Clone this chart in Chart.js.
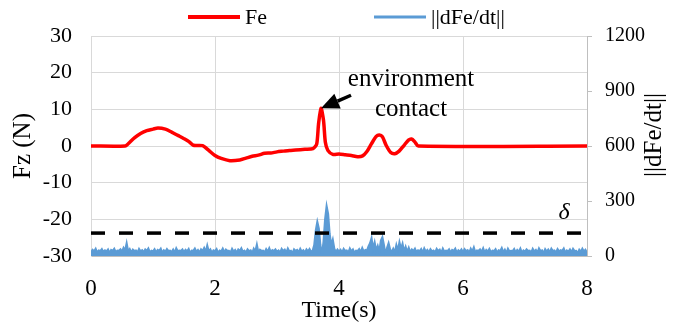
<!DOCTYPE html>
<html>
<head>
<meta charset="utf-8">
<script src="https://cdn.jsdelivr.net/npm/chart.js@4.4.1/dist/chart.umd.min.js"></script>
<style>
  html, body { margin: 0; padding: 0; background: #fff; }
  #wrap { width: 679px; height: 327px; }
</style>
</head>
<body>
<div id="wrap"><canvas id="forceChart" width="679" height="327"></canvas></div>
<script>
// Fe (N) against time (s)
const feTime = [
  0, 0.55, 0.6, 0.7, 0.8, 0.9, 1.0, 1.08, 1.2, 1.3, 1.4, 1.5, 1.58, 1.65, 1.8,
  1.9, 2.0, 2.1, 2.24, 2.4, 2.5, 2.6, 2.7, 2.8, 2.9, 3.0, 3.1, 3.2, 3.3, 3.45,
  3.58, 3.64, 3.67, 3.71, 3.75, 3.78, 3.82, 3.9, 4.0, 4.1, 4.2, 4.3, 4.38, 4.45,
  4.52, 4.6, 4.65, 4.7, 4.76, 4.83, 4.9, 4.97, 5.05, 5.12, 5.17, 5.22, 5.28, 8.0
];
const feValues = [
  0, 0, 0.6, 2.2, 3.4, 4.2, 4.6, 4.9, 4.6, 3.8, 2.9, 2.0, 1.2, 0.2, 0.1,
  -1.2, -2.6, -3.4, -4.0, -3.8, -3.3, -2.8, -2.5, -2.0, -1.9, -1.6, -1.4, -1.2, -1.1, -0.9,
  -0.7, 0.5, 6.0, 10.3, 7.0, 1.0, -1.2, -2.3, -2.2, -2.4, -2.6, -2.9, -2.7, -1.5,
  0.5, 2.6, 3.0, 2.5, 0.2, -1.7, -2.1, -1.4, 0.2, 1.6, 1.9, 1.2, 0, 0
];

// ||dFe/dt||, sampled every 25 ms from t = 0
const dfSamplePeriod = 0.025;
const dfValues = [
  20, 34, 26, 40, 18, 30, 27, 38, 22, 31, 25, 36, 17, 33, 28, 40, 21, 30, 29, 37,
  24, 45, 30, 70, 25, 38, 19, 35, 27, 30, 18, 39, 26, 32, 21, 36, 28, 41, 20, 29,
  25, 37, 19, 33, 28, 40, 17, 31, 24, 38, 27, 29, 22, 35, 19, 42, 26, 30, 27, 36,
  21, 34, 26, 39, 16, 29, 28, 41, 23, 33, 19, 37, 27, 44, 22, 58, 25, 36, 18, 31,
  27, 38, 17, 30, 25, 41, 21, 35, 28, 29, 19, 39, 24, 33, 18, 36, 27, 42, 23, 29,
  20, 37, 27, 31, 16, 40, 25, 62, 19, 34, 28, 30, 20, 38, 24, 43, 21, 32, 27, 36,
  23, 30, 18, 39, 27, 35, 19, 41, 25, 29, 16, 37, 28, 33, 21, 40, 24, 31, 19, 36,
  25, 38, 22, 30, 60, 140, 187, 150, 60, 5, 80, 200, 273, 230, 120, 60, 90, 40, 22, 35,
  24, 34, 18, 39, 27, 30, 19, 41, 25, 36, 17, 29, 27, 38, 21, 44, 24, 33, 30, 52,
  70, 98, 40, 75, 30, 55, 25, 85, 103, 60, 8, 45, 70, 35, 22, 40, 20, 60, 30, 76,
  40, 68, 25, 50, 22, 45, 20, 36, 27, 40, 21, 31, 26, 38, 18, 42, 24, 33, 19, 37,
  25, 30, 20, 39, 27, 35, 17, 41, 24, 29, 27, 37, 19, 33, 28, 40, 18, 31, 24, 36,
  21, 38, 27, 32, 17, 40, 25, 47, 19, 30, 27, 36, 23, 42, 18, 33, 25, 39, 21, 29,
  27, 37, 18, 31, 28, 44, 21, 35, 16, 40, 25, 28, 27, 38, 19, 33, 24, 41, 18, 30,
  24, 36, 27, 29, 18, 39, 25, 33, 19, 42, 27, 31, 16, 37, 24, 35, 21, 40, 27, 30,
  19, 38, 25, 32, 28, 41, 18, 30, 24, 36, 21, 39, 27, 28, 16, 35, 24, 40, 25, 34,
  20
];

// contact threshold delta on the derivative axis
const deltaValue = 125;
const contactPeak = { x: 3.71, y: 10.3 };

const xTicks = [0, 2, 4, 6, 8];
const fzTicks = [-30, -20, -10, 0, 10, 20, 30];
const dfTicks = [0, 300, 600, 900, 1200];

const SERIF = '"Liberation Serif", "Times New Roman", serif';
const GRID = '#d9d9d9';
const AXIS = '#bfbfbf';
const BLUE = '#5b9bd5';

const feData = feTime.map((t, i) => ({ x: t, y: feValues[i] }));
const dfData = dfValues.map((v, i) => ({ x: i * dfSamplePeriod, y: v }));
const deltaData = [{ x: xTicks[0], y: deltaValue }, { x: xTicks[xTicks.length - 1], y: deltaValue }];

// legend drawn by hand so the spacing can follow the figure
const legendPlugin = {
  id: 'lineLegend',
  afterDraw(chart) {
    const ctx = chart.ctx;
    const items = chart.data.datasets.filter(d => d.inLegend);
    let x = 188;
    const y = 17;
    ctx.save();
    ctx.font = '22px ' + SERIF;
    ctx.textBaseline = 'middle';
    ctx.fillStyle = '#000';
    items.forEach(d => {
      ctx.strokeStyle = d.borderColor;
      ctx.lineWidth = d.legendWidth;
      ctx.beginPath();
      ctx.moveTo(x, y);
      ctx.lineTo(x + 52, y);
      ctx.stroke();
      ctx.fillText(d.label, x + 57, y + 1);
      x += 57 + ctx.measureText(d.label).width + 107;
    });
    ctx.restore();
  }
};

// arrow + note at the contact spike, delta label, right axis title
const notePlugin = {
  id: 'notes',
  afterDraw(chart) {
    const ctx = chart.ctx;
    const xs = chart.scales.x, ys = chart.scales.y, y1 = chart.scales.y1;
    const px = xs.getPixelForValue(contactPeak.x);
    const py = ys.getPixelForValue(contactPeak.y);
    ctx.save();

    // arrow pointing at the peak
    const tx = px + 30, ty = py - 13;
    const ang = Math.atan2(ty - py, tx - px);
    const head = 18, half = 8;
    const bx = px + Math.cos(ang) * head, by = py + Math.sin(ang) * head;
    ctx.strokeStyle = '#000';
    ctx.fillStyle = '#000';
    ctx.lineWidth = 3.5;
    ctx.beginPath();
    ctx.moveTo(bx, by);
    ctx.lineTo(tx, ty);
    ctx.stroke();
    ctx.beginPath();
    ctx.moveTo(px, py);
    ctx.lineTo(bx + Math.sin(ang) * half, by - Math.cos(ang) * half);
    ctx.lineTo(bx - Math.sin(ang) * half, by + Math.cos(ang) * half);
    ctx.closePath();
    ctx.fill();

    ctx.font = '25px ' + SERIF;
    ctx.textAlign = 'center';
    ctx.textBaseline = 'alphabetic';
    ctx.fillText('environment', px + 90, py - 22);
    ctx.fillText('contact', px + 90, py + 8);

    // threshold label
    ctx.font = 'italic 24px ' + SERIF;
    ctx.fillText('\u03b4', xs.getPixelForValue(7.63), y1.getPixelForValue(deltaValue) - 14);

    // right axis title, reading bottom to top
    ctx.font = '25px ' + SERIF;
    ctx.textBaseline = 'middle';
    ctx.translate(654, 135);
    ctx.rotate(-Math.PI / 2);
    ctx.fillText('||dFe/dt||', 0, 0);
    ctx.restore();
  }
};

new Chart(document.getElementById('forceChart'), {
  type: 'line',
  data: {
    datasets: [
      {
        label: 'Fe',
        data: feData,
        yAxisID: 'y',
        borderColor: '#ff0000',
        borderWidth: 3.5,
        pointRadius: 0,
        tension: 0.25,
        inLegend: true,
        legendWidth: 4
      },
      {
        label: 'delta',
        data: deltaData,
        yAxisID: 'y1',
        borderColor: '#000000',
        borderWidth: 3.5,
        borderDash: [14, 14],
        pointRadius: 0
      },
      {
        label: '||dFe/dt||',
        data: dfData,
        yAxisID: 'y1',
        borderColor: BLUE,
        backgroundColor: BLUE,
        fill: 'origin',
        borderWidth: 2,
        pointRadius: 0,
        tension: 0,
        inLegend: true,
        legendWidth: 3
      }
    ]
  },
  options: {
    responsive: false,
    animation: false,
    devicePixelRatio: 1,
    layout: { padding: { top: 36, left: 0, right: 0, bottom: 0 } },
    plugins: {
      legend: { display: false },
      tooltip: { enabled: false }
    },
    scales: {
      x: {
        type: 'linear',
        min: 0,
        max: 8,
        afterBuildTicks: s => { s.ticks = xTicks.map(v => ({ value: v })); },
        ticks: { font: { family: SERIF, size: 23 }, color: '#000', padding: 19, maxRotation: 0, callback: v => String(v) },
        grid: { color: GRID, drawTicks: false },
        border: { color: AXIS },
        title: { display: true, text: 'Time(s)', color: '#000', font: { family: SERIF, size: 24 }, padding: { bottom: 2, top: 0 } },
        afterFit: s => { s.height = 71; }
      },
      y: {
        position: 'left',
        min: -30,
        max: 30,
        afterBuildTicks: s => { s.ticks = fzTicks.map(v => ({ value: v })); },
        ticks: { font: { family: SERIF, size: 22 }, color: '#000', padding: 19, callback: v => String(v) },
        grid: { color: GRID, drawTicks: false },
        border: { color: GRID },
        title: { display: true, text: 'Fz (N)', color: '#000', font: { family: SERIF, size: 25 }, padding: { top: 8, bottom: 0 } },
        afterFit: s => { s.width = 91; }
      },
      y1: {
        position: 'right',
        min: 0,
        max: 1200,
        afterBuildTicks: s => { s.ticks = dfTicks.map(v => ({ value: v })); },
        ticks: { font: { family: SERIF, size: 20 }, color: '#000', padding: 13, callback: v => String(v) },
        grid: { drawOnChartArea: false, color: AXIS, tickLength: 5 },
        border: { color: AXIS },
        afterFit: s => { s.width = 92; }
      }
    }
  },
  plugins: [legendPlugin, notePlugin]
});
</script>
</body>
</html>
